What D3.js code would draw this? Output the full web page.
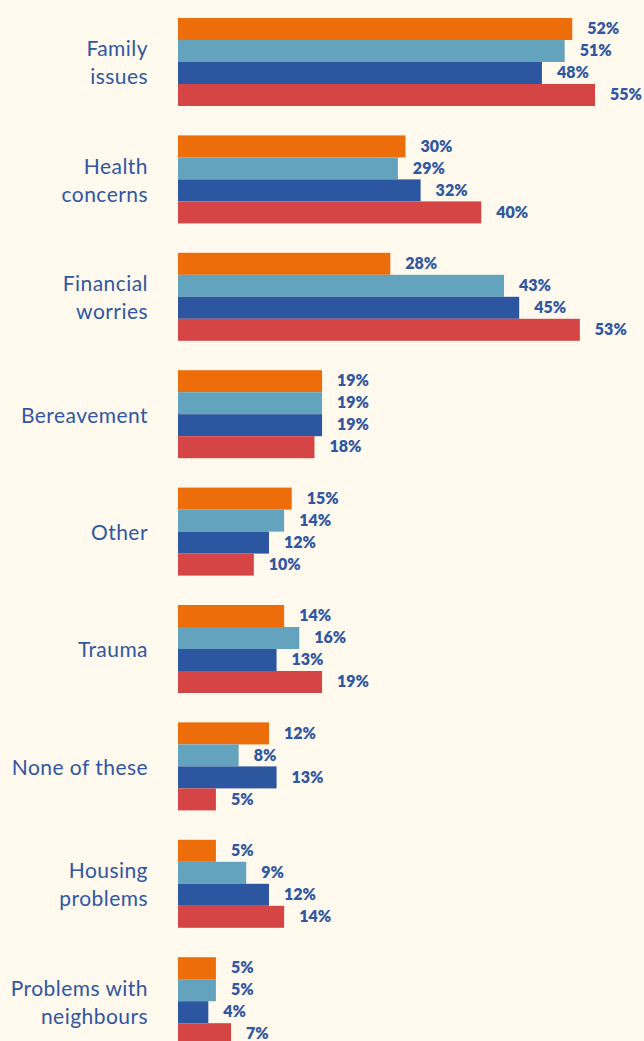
<!DOCTYPE html>
<html>
<head>
<meta charset="utf-8">
<script src="https://cdn.jsdelivr.net/npm/d3@7"></script>
<style>
html,body{margin:0;padding:0;background:#FFF9EE;}
svg{display:block;}
</style>
</head>
<body>
<svg id="chart" width="644" height="1041"></svg>
<script>
const categories = [
  ["Family", "issues"],
  ["Health", "concerns"],
  ["Financial", "worries"],
  ["Bereavement"],
  ["Other"],
  ["Trauma"],
  ["None of these"],
  ["Housing", "problems"],
  ["Problems with", "neighbours"]
];
const seriesNames = ["Series 1", "Series 2", "Series 3", "Series 4"];
const seriesColors = ["#EC6D0A", "#64A3BD", "#2D56A0", "#D64545"];
const series1 = [52, 30, 28, 19, 15, 14, 12, 5, 5];
const series2 = [51, 29, 43, 19, 14, 16, 8, 9, 5];
const series3 = [48, 32, 45, 19, 12, 13, 13, 12, 4];
const series4 = [55, 40, 53, 18, 10, 19, 5, 14, 7];
const allSeries = [series1, series2, series3, series4];

const svg = d3.select("#chart");
const textColor = "#2F57A3";

const x = d3.scaleLinear().domain([0, 55]).range([178, 595]);
const step = 117.4, band = 88;
const p = (step - band) / step;
const y0 = d3.scaleBand()
  .domain(d3.range(categories.length))
  .range([18 - (p / 2) * step, 18 - (p / 2) * step + step * categories.length])
  .paddingInner(p)
  .paddingOuter(p / 2);
const y1 = d3.scaleBand().domain(d3.range(seriesNames.length)).range([0, y0.bandwidth()]);

const groups = svg.selectAll("g.grp")
  .data(categories)
  .join("g")
  .attr("class", "grp")
  .attr("transform", (d, i) => `translate(0,${y0(i)})`);

groups.each(function(cat, ci) {
  const g = d3.select(this);
  const vals = allSeries.map(s => s[ci]);
  g.selectAll("rect")
    .data(vals)
    .join("rect")
    .attr("x", x(0))
    .attr("y", (d, si) => y1(si))
    .attr("width", d => x(d) - x(0))
    .attr("height", y1.bandwidth())
    .attr("fill", (d, si) => seriesColors[si]);
  g.selectAll("text.val")
    .data(vals)
    .join("text")
    .attr("class", "val")
    .attr("x", d => x(d) + 15)
    .attr("y", (d, si) => y1(si) + y1.bandwidth() / 2 + 1)
    .attr("dominant-baseline", "middle")
    .attr("font-family", "Lato, 'Open Sans', sans-serif")
    .attr("font-weight", 800)
    .attr("font-size", 16)
    .attr("fill", textColor)
    .text(d => d + "%");
  const lh = 28;
  const n = cat.length;
  const cy = y0.bandwidth() / 2 + 3;
  g.append("text")
    .attr("class", "cat")
    .attr("text-anchor", "end")
    .attr("font-family", "Lato, 'Open Sans', sans-serif")
    .attr("font-size", 21)
    .attr("letter-spacing", 0.45)
    .attr("fill", textColor)
    .selectAll("tspan")
    .data(cat)
    .join("tspan")
    .attr("x", 148)
    .attr("y", (d, li) => cy + (li - (n - 1) / 2) * lh)
    .attr("dominant-baseline", "middle")
    .text(d => d);
});
</script>
</body>
</html>
